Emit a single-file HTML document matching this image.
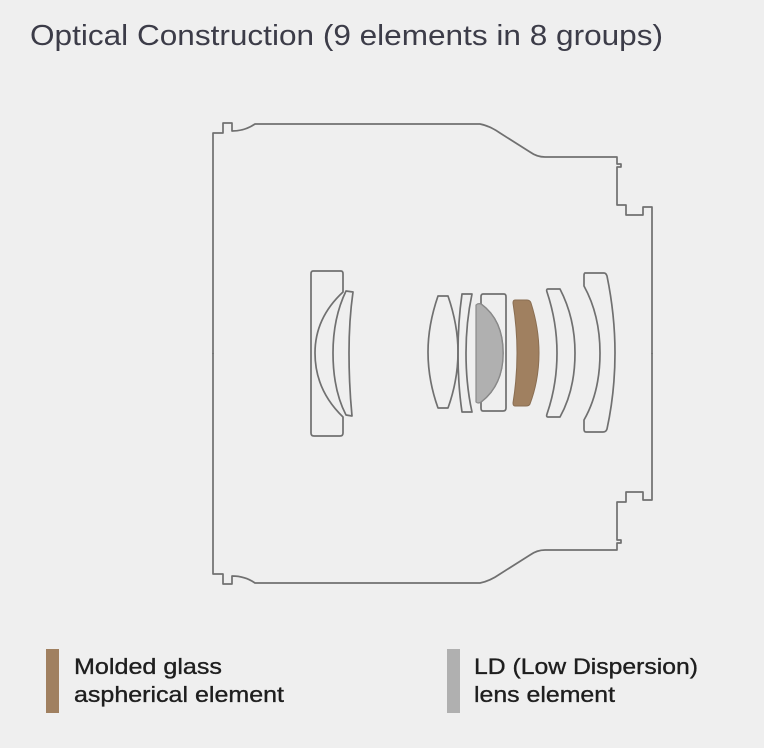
<!DOCTYPE html>
<html><head><meta charset="utf-8"><style>
html,body{margin:0;padding:0;background:#efefef;}
svg{display:block}
</style></head><body>
<svg width="764" height="748" viewBox="0 0 764 748" xmlns="http://www.w3.org/2000/svg">
<rect width="764" height="748" fill="#efefef"/>
<text x="30" y="45" font-family="Liberation Sans, sans-serif" font-size="29" fill="#3c3c48" textLength="633" lengthAdjust="spacingAndGlyphs">Optical Construction (9 elements in 8 groups)</text>
<g fill="none" stroke="#707070" stroke-width="1.7" stroke-linejoin="round">
<path d="M213,354 L213,133 L223,133 L223,123 L232,123 L232,131 Q245,131 255,124 L480,124 Q490,126 500,133 L530,152 Q537,157 545,157 L617,157 L617,164 L621,164 L621,167 L617,167 L617,205 L626,205 L626,215 L643,215 L643,207 L652,207 L652,354"/>
<g transform="translate(0,707) scale(1,-1)"><path d="M213,354 L213,133 L223,133 L223,123 L232,123 L232,131 Q245,131 255,124 L480,124 Q490,126 500,133 L530,152 Q537,157 545,157 L617,157 L617,164 L621,164 L621,167 L617,167 L617,205 L626,205 L626,215 L643,215 L643,207 L652,207 L652,354"/></g>
<path d="M313,271 L341,271 Q343,271 343,274 L343,292 Q315,318 315,353 Q315,390 343,417 L343,433 Q343,436 340,436 L314,436 Q311,436 311,433 L311,274 Q311,271 313,271 Z"/>
<path d="M346,291 Q333,318 333,353 Q333,390 346,415 L352,416 Q349,385 349,353 Q349,320 353,292 Z"/>
<path d="M438,296 L448,296 Q458,325 458,352 Q458,380 448,408 L438,408 Q428,380 428,352 Q428,325 438,296 Z"/>
<path d="M462,294 L472,294 Q466,322 466,353 Q466,385 472,412 L462,412 Q458,385 458,353 Q458,322 462,294 Z"/>
<path d="M483,294 L504,294 Q506,294 506,297 L506,408 Q506,411 503,411 L483,411 Q481,411 481,408 L481,402 Q503,385 503,353 Q503,320 481,304 L481,297 Q481,294 483,294 Z"/>
</g>
<path d="M476,305 Q478,303 481,304 Q503,320 503,353 Q503,385 481,402 Q478,404 476,402 Z" fill="#b0b0b0" stroke="#8a8a8a" stroke-width="1.2"/>
<path d="M515,300 L527,300 Q530,300 531,303 Q539,328 539,353 Q539,380 530,404 Q529,406 526,406 L515,406 Q513,406 513,403 Q517,378 517,353 Q517,328 513,303 Q513,300 515,300 Z" fill="#a08060" stroke="#8a6e52" stroke-width="1"/>
<g fill="none" stroke="#707070" stroke-width="1.7" stroke-linejoin="round">
<path d="M548,289 L560,289 Q575,318 575,353 Q575,390 560,417 L548,417 Q546,417 547,414 Q557,385 557,353 Q557,322 547,292 Q546,289 548,289 Z"/>
<path d="M585,273 L604,273 Q606,273 607,276 Q615,315 615,353 Q615,392 607,429 Q606,432 603,432 L586,432 Q584,432 584,429 L584,420 Q600,392 600,353 Q600,315 584,286 L584,276 Q584,273 585,273 Z"/>
</g>
<rect x="46" y="649" width="13" height="64" fill="#a08060"/>
<rect x="447" y="649" width="13" height="64" fill="#b0b0b0"/>
<g font-family="Liberation Sans, sans-serif" font-size="22" fill="#1e1e1e" stroke="#1e1e1e" stroke-width="0.35">
<text x="74" y="674" textLength="148" lengthAdjust="spacingAndGlyphs">Molded glass</text>
<text x="74" y="702" textLength="210" lengthAdjust="spacingAndGlyphs">aspherical element</text>
<text x="474" y="674" textLength="224" lengthAdjust="spacingAndGlyphs">LD (Low Dispersion)</text>
<text x="474" y="702" textLength="141" lengthAdjust="spacingAndGlyphs">lens element</text>
</g>
</svg>
</body></html>
